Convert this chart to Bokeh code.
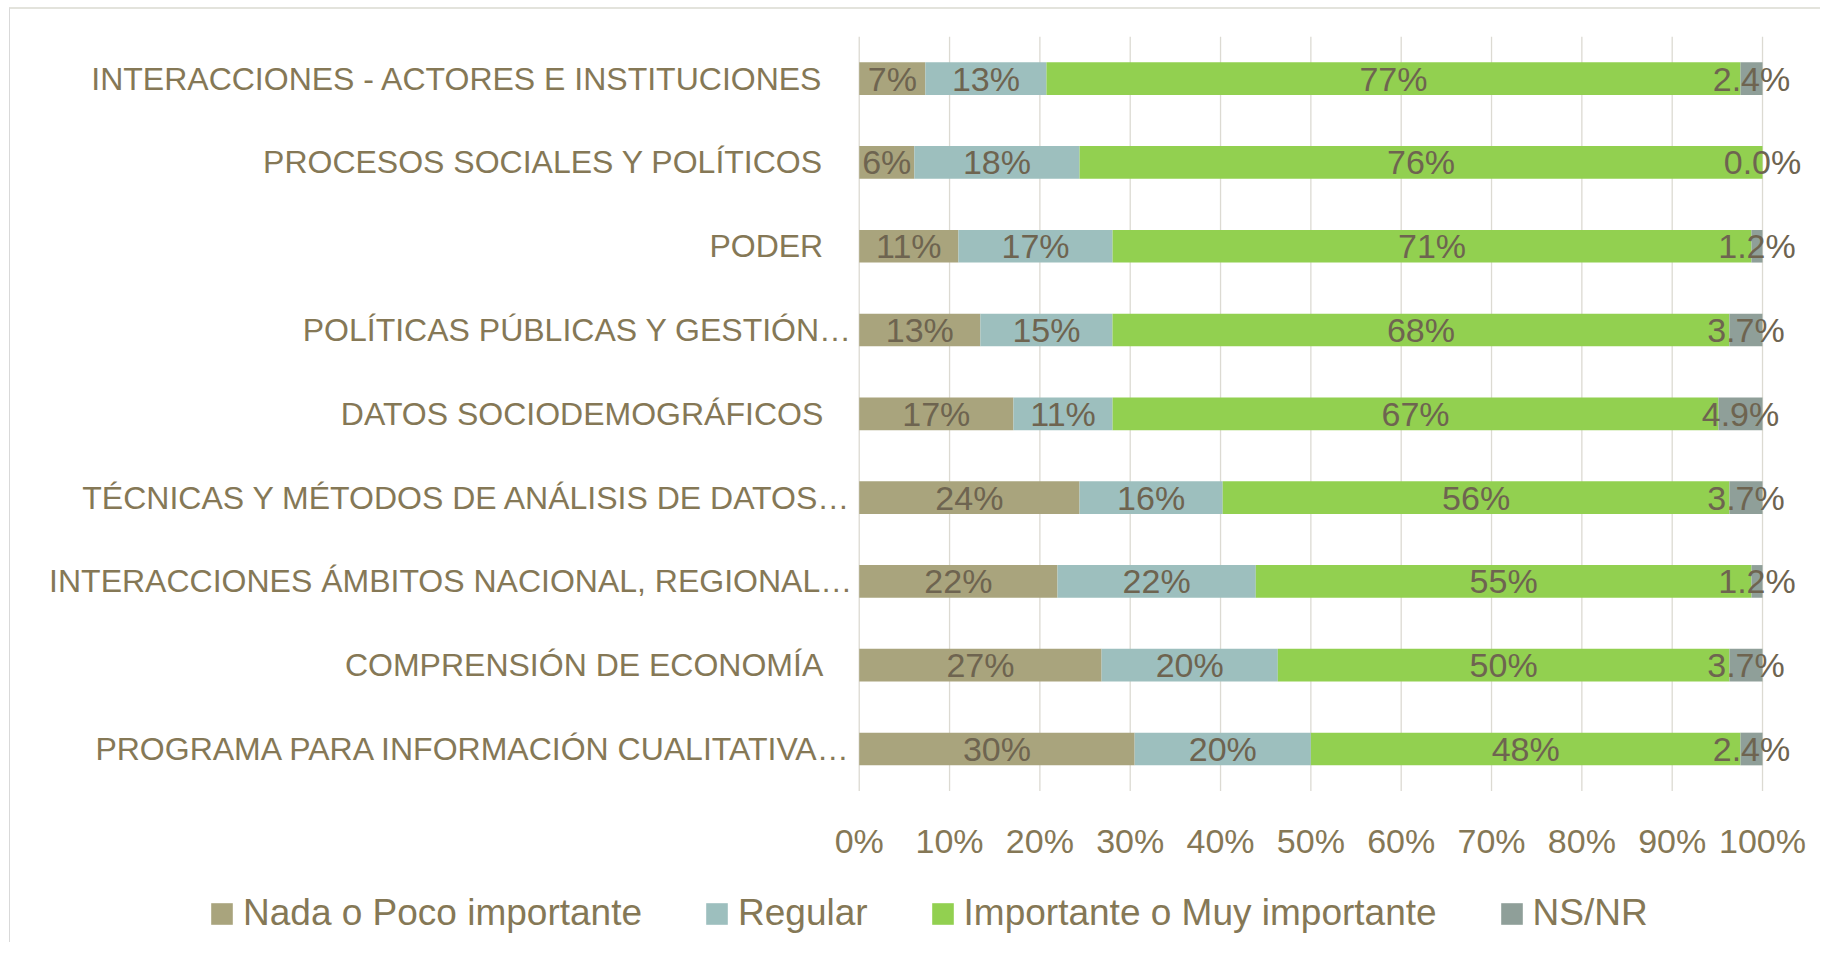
from bokeh.plotting import figure
from bokeh.models import ColumnDataSource, Range1d, Legend, LegendItem
from bokeh.core.properties import value
from bokeh.embed import file_html
from bokeh.resources import INLINE

categories = [
    "INTERACCIONES - ACTORES E INSTITUCIONES",
    "PROCESOS SOCIALES Y POLÍTICOS",
    "PODER",
    "POLÍTICAS PÚBLICAS Y GESTIÓN…",
    "DATOS SOCIODEMOGRÁFICOS",
    "TÉCNICAS Y MÉTODOS DE ANÁLISIS DE DATOS…",
    "INTERACCIONES ÁMBITOS NACIONAL, REGIONAL…",
    "COMPRENSIÓN DE ECONOMÍA",
    "PROGRAMA PARA INFORMACIÓN CUALITATIVA…",
]
nada = [7.32, 6.10, 10.98, 13.41, 17.07, 24.39, 21.95, 26.83, 30.49]
regular = [13.41, 18.29, 17.07, 14.63, 10.98, 15.85, 21.95, 19.51, 19.51]
importante = [76.83, 75.61, 70.73, 68.29, 67.07, 56.10, 54.88, 50.00, 47.56]
nsnr = [2.44, 0.00, 1.22, 3.66, 4.88, 3.66, 1.22, 3.66, 2.44]
series_names = ["Nada o Poco importante", "Regular", "Importante o Muy importante", "NS/NR"]
series_keys = ["nada", "regular", "importante", "nsnr"]
x_ticks = [0, 10, 20, 30, 40, 50, 60, 70, 80, 90, 100]
x_tick_labels = ["0%", "10%", "20%", "30%", "40%", "50%", "60%", "70%", "80%", "90%", "100%"]

colors = ["#A9A47D", "#9DBFBE", "#92D050", "#8F9F99"]
FONT = "'Liberation Sans Narrow', 'Liberation Sans', sans-serif"
AXIS_COLOR = "#857856"
LABEL_COLOR = "#6E6450"

n = len(categories)
ypos = [n - 1 - i for i in range(n)]  # first category on top
band_lo, band_hi = -0.5, n - 0.5

src = ColumnDataSource(dict(y=ypos, nada=nada, regular=regular, importante=importante, nsnr=nsnr))

p = figure(width=1811, height=935, output_backend="svg", toolbar_location=None,
           x_range=Range1d(-93.96, 106.53), y_range=Range1d(-2.333, 8.825),
           min_border=0)
p.outline_line_color = None
p.axis.visible = False
p.grid.grid_line_color = None
p.background_fill_color = "white"
p.border_fill_color = "white"
p.styles = {"margin-left": "9px", "margin-top": "7px",
            "border-left": "1px solid #D9D9D9", "border-top": "2px solid #E3E3DC"}

# vertical gridlines over the plot area
p.segment(x0=x_ticks, y0=[band_lo] * len(x_ticks), x1=x_ticks, y1=[band_hi] * len(x_ticks),
          line_color="#DCDAD2", line_width=1.3)

renderers = p.hbar_stack(series_keys, y="y", height=0.39, color=colors, source=src, line_width=0)

# data labels
lx, ly, lt = [], [], []
for i in range(n):
    left = 0.0
    vals = [nada[i], regular[i], importante[i], nsnr[i]]
    for k, v in enumerate(vals):
        lx.append(left + v / 2)
        ly.append(ypos[i])
        lt.append(f"{v:.1f}%" if k == 3 else f"{v:.0f}%")
        left += v
p.text(x=lx, y=ly, text=lt, text_align="center", text_baseline="middle",
       text_font=value(FONT), text_font_size="34px", text_color=LABEL_COLOR)

# category labels
offs = [-7 if c.endswith("…") else -36 for c in categories]
p.text(x=[0] * n, y=ypos, text=categories, x_offset=offs,
       text_align="right", text_baseline="middle",
       text_font=value(FONT), text_font_size="32px", text_color=AXIS_COLOR)

# x tick labels
p.text(x=x_ticks, y=[band_lo] * len(x_ticks), text=x_tick_labels, y_offset=50,
       text_align="center", text_baseline="middle",
       text_font=value(FONT), text_font_size="34px", text_color=AXIS_COLOR)

legend = Legend(items=[LegendItem(label=nm, renderers=[r]) for nm, r in zip(series_names, renderers)],
                orientation="horizontal", location=(198, 10),
                glyph_width=27, glyph_height=27, label_standoff=8, spacing=61,
                padding=0, margin=0, border_line_color=None, background_fill_alpha=0,
                label_text_font=FONT, label_text_font_size="37px", label_text_color=AXIS_COLOR)
p.add_layout(legend, "center")

open("out.html", "w").write(file_html(p, INLINE))
